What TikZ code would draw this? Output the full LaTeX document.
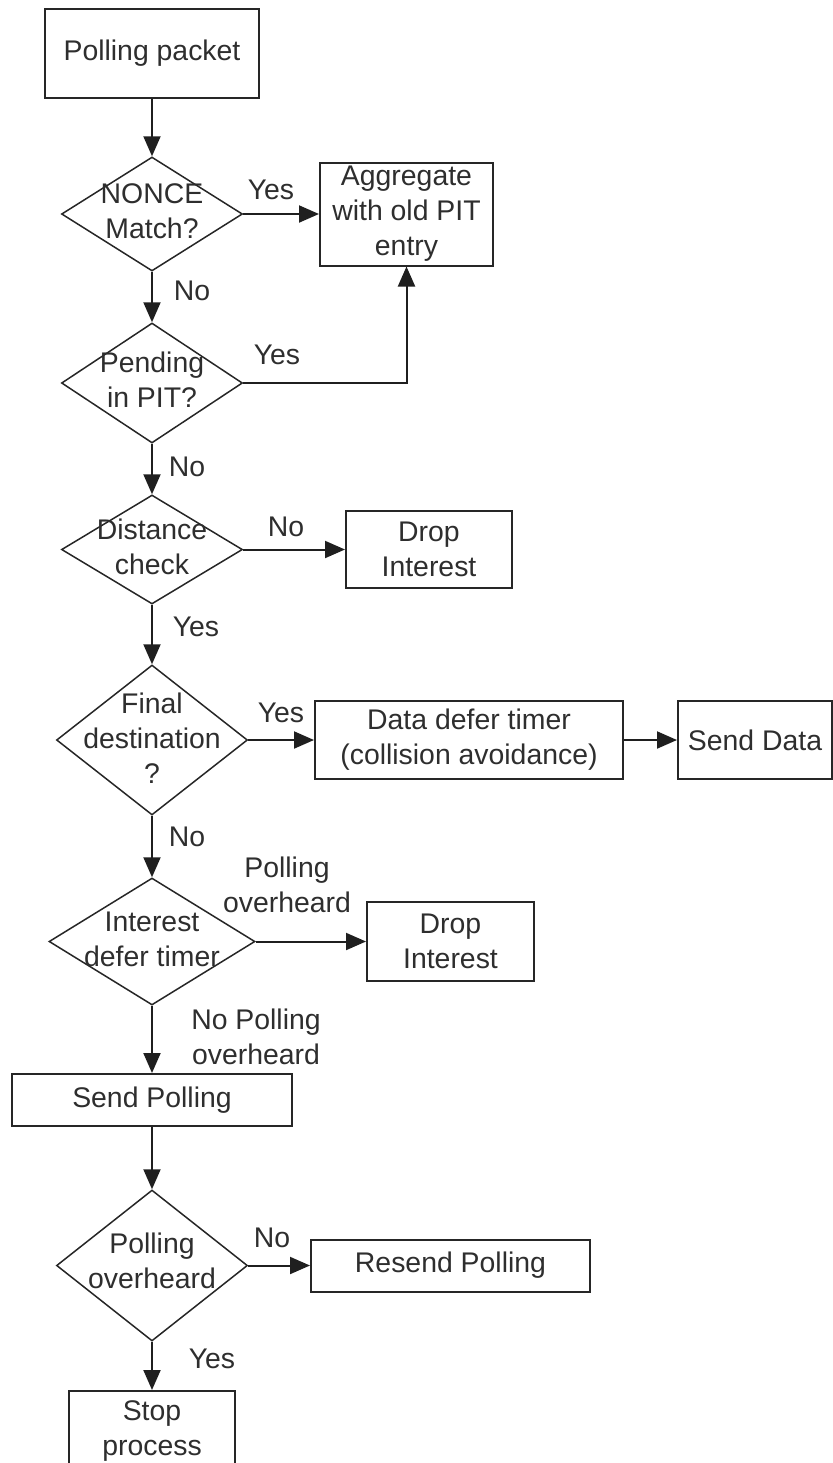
\documentclass[tikz,border=0pt]{standalone}
\usepackage{fontspec}
\setmainfont{Liberation Sans}
\usetikzlibrary{shapes.geometric,arrows.meta}
\begin{document}
\begin{tikzpicture}[x=0.5pt,y=-0.5pt,
  every node/.style={font=\fontsize{14.2pt}{17.5pt}\selectfont, text=black!82},
  box/.style={draw=black!85, line width=1pt, rectangle, inner sep=0pt, align=center},
  dec/.style={draw=black!85, line width=0.75pt, diamond, inner sep=0pt},
  dtext/.style={align=center, inner sep=0pt},
  lbl/.style={align=center, inner sep=0pt},
  conn/.style={draw=black!88, line width=1pt, -{Triangle[length=10pt,width=8.5pt]}}
]
\clip (0,0) rectangle (833,1463);

% main column: process boxes and decisions
\node[box, minimum width=107pt, minimum height=44.5pt] (pp) at (152,53.5) {Polling packet};

\node[dec, minimum width=90.5pt, minimum height=57pt] (nonce) at (152,214) {};
\node[dtext] (nonceT) at (152,211) {NONCE\\Match?};

\node[dec, minimum width=90.5pt, minimum height=60pt] (pending) at (152,383) {};
\node[dtext] (pendingT) at (152,380) {Pending\\in PIT?};

\node[dec, minimum width=90.5pt, minimum height=54.5pt] (dist) at (152,549.5) {};
\node[dtext] (distT) at (152,547) {Distance\\check};

\node[dec, minimum width=95.5pt, minimum height=75pt] (final) at (152,740) {};
\node[dtext] (finalT) at (152,738) {Final\\destination\\?};

\node[dec, minimum width=103pt, minimum height=63.5pt] (inter) at (152,941.5) {};
\node[dtext] (interT) at (152,939) {Interest\\defer timer};

\node[box, minimum width=140pt, minimum height=26pt] (spoll) at (152,1100) {Send Polling};

\node[dec, minimum width=95.5pt, minimum height=75.5pt] (po) at (152,1265.5) {};
\node[dtext] (poT) at (152,1261) {Polling\\overheard};

\node[box, minimum width=83pt, minimum height=40pt] (stop) at (152,1431) {Stop\\process};

% side boxes
\node[box, minimum width=86.5pt, minimum height=51.5pt] (agg) at (406.5,214) {Aggregate\\with old PIT\\entry};
\node[box, minimum width=83pt, minimum height=38.5pt] (drop1) at (429,549.5) {Drop\\Interest};
\node[box, minimum width=154pt, minimum height=39pt] (data) at (469,740) {Data defer timer\\(collision avoidance)};
\node[box, minimum width=77pt, minimum height=39pt] (sdata) at (755,740) {Send Data};
\node[box, minimum width=83.5pt, minimum height=39.5pt] (drop2) at (450.5,941.5) {Drop\\Interest};
\node[box, minimum width=139.5pt, minimum height=26pt] (resend) at (450.5,1265.5) {Resend Polling};

% connectors
\draw[conn] (pp.south) -- (nonce.north);
\draw[conn] (nonce.east) -- (nonce.east -| agg.west);
\draw[conn] (nonce.south) -- (pending.north);
\draw[conn] (pending.east) -| (agg.south);
\draw[conn] (pending.south) -- (dist.north);
\draw[conn] (dist.east) -- (dist.east -| drop1.west);
\draw[conn] (dist.south) -- (final.north);
\draw[conn] (final.east) -- (final.east -| data.west);
\draw[conn] (data.east) -- (sdata.west);
\draw[conn] (final.south) -- (inter.north);
\draw[conn] (inter.east) -- (inter.east -| drop2.west);
\draw[conn] (inter.south) -- (spoll.north);
\draw[conn] (spoll.south) -- (po.north);
\draw[conn] (po.east) -- (po.east -| resend.west);
\draw[conn] (po.south) -- (stop.north);

% connector labels
\node[lbl] (yes1) at (271,190) {Yes};
\node[lbl] (no1) at (192,291) {No};
\node[lbl] (yes2) at (277,355) {Yes};
\node[lbl] (no2) at (187,467) {No};
\node[lbl] (no3) at (286,527) {No};
\node[lbl] (yes3) at (196,627) {Yes};
\node[lbl] (yes4) at (281,713) {Yes};
\node[lbl] (no4) at (187,837) {No};
\node[lbl] (ph) at (287,885) {Polling\\overheard};
\node[lbl] (nph) at (256,1037) {No Polling\\overheard};
\node[lbl] (no5) at (272,1238) {No};
\node[lbl] (yes5) at (212,1359) {Yes};
\end{tikzpicture}
\end{document}
